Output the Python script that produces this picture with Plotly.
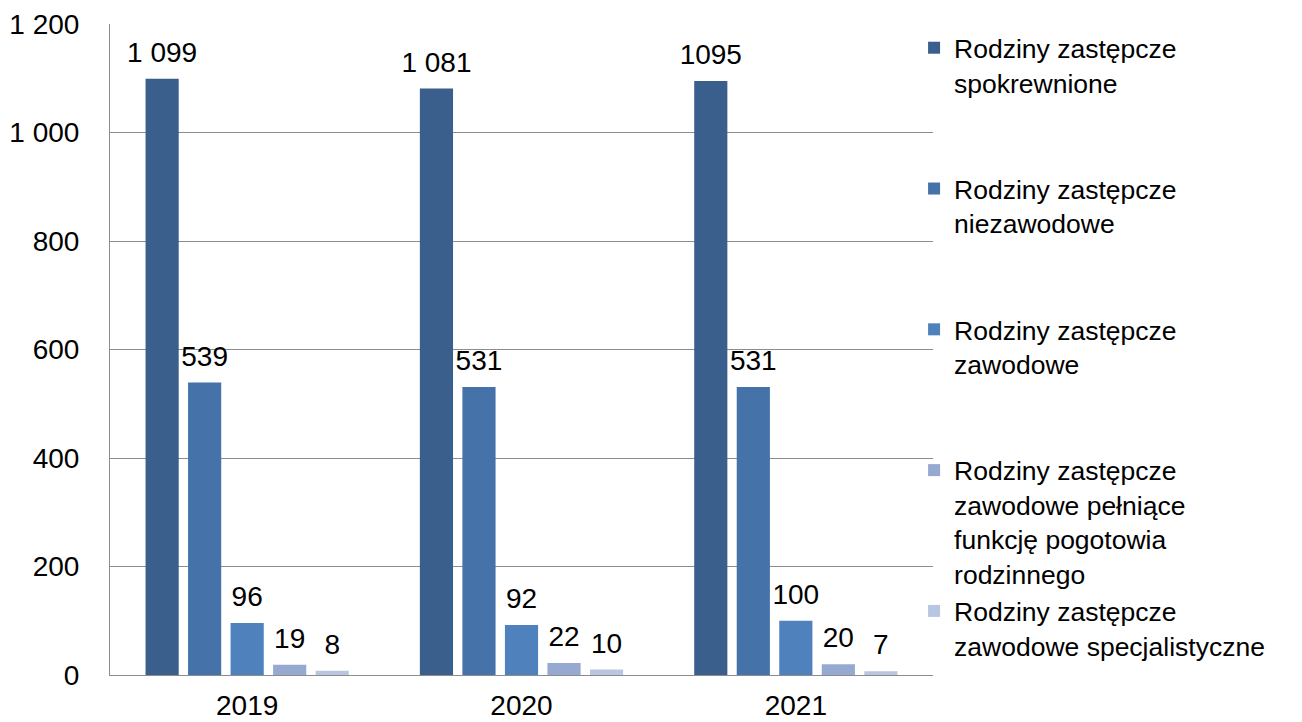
import plotly.graph_objects as go

YEARS = ["2019", "2020", "2021"]

SERIES_NAMES = [
    "Rodziny zastępcze<br>spokrewnione",
    "Rodziny zastępcze<br>niezawodowe",
    "Rodziny zastępcze<br>zawodowe",
    "Rodziny zastępcze<br>zawodowe pełniące<br>funkcję pogotowia<br>rodzinnego",
    "Rodziny zastępcze<br>zawodowe specjalistyczne",
]

spokrewnione = [1099, 1081, 1095]
niezawodowe = [539, 531, 531]
zawodowe = [96, 92, 100]
pogotowie = [19, 22, 20]
specjalistyczne = [8, 10, 7]

# labels as printed in the source (the 2021 one has no space)
labels_spokrewnione = ["1 099", "1 081", "1095"]
labels_niezawodowe = ["539", "531", "531"]
labels_zawodowe = ["96", "92", "100"]
labels_pogotowie = ["19", "22", "20"]
labels_specjalistyczne = ["8", "10", "7"]

SERIES = [spokrewnione, niezawodowe, zawodowe, pogotowie, specjalistyczne]
LABELS = [labels_spokrewnione, labels_niezawodowe, labels_zawodowe,
          labels_pogotowie, labels_specjalistyczne]
COLORS = ["#3A5F8C", "#4572A8", "#4F81BD", "#95A9D1", "#B9C6E1"]

FONT = "Liberation Sans, Arial, sans-serif"
FONT_COLOR = "#000000"
GRID_COLOR = "#8C8C8C"
GAP = 0.225


def pad_lines(name, n=4):
    # legend entries in the source are evenly spaced, so pad to 4 lines
    count = name.count("<br>") + 1
    return name + "<br>\u00a0" * (n - count)


fig = go.Figure()
for i, (name, vals, col) in enumerate(zip(SERIES_NAMES, SERIES, COLORS)):
    fig.add_trace(go.Bar(
        x=YEARS, y=vals,
        name=pad_lines(name) if i < len(SERIES_NAMES) - 1 else name,
        marker=dict(color=col, line=dict(width=0)),
        offsetgroup=str(i),
        hovertemplate="%{x}: %{y}<extra></extra>",
    ))

# value labels: invisible markers so the text sits a bit above the bar top
for i, (vals, labs) in enumerate(zip(SERIES, LABELS)):
    fig.add_trace(go.Scatter(
        x=YEARS, y=vals,
        mode="markers+text",
        text=labs,
        textposition="top center",
        textfont=dict(size=28, color=FONT_COLOR, family=FONT),
        marker=dict(size=14, opacity=0),
        offsetgroup=str(i),
        showlegend=False,
        hoverinfo="skip",
        cliponaxis=False,
    ))

# page body has an 8px margin, so the figure is a bit smaller than the window
fig.update_layout(
    width=1294, height=714,
    barmode="group",
    bargap=GAP,
    bargroupgap=0.22,
    scattermode="group",
    scattergap=GAP,
    separators=", ",
    plot_bgcolor="white",
    paper_bgcolor="white",
    font=dict(family=FONT, color=FONT_COLOR, size=28),
    margin=dict(l=102, r=369, t=16, b=47, autoexpand=False),
    xaxis=dict(
        type="category",
        showline=True, linecolor=GRID_COLOR, linewidth=1,
        showgrid=False,
        ticks="outside", ticklen=5, tickcolor="rgba(0,0,0,0)",
        tickfont=dict(size=28, color=FONT_COLOR),
    ),
    yaxis=dict(
        range=[0, 1200], dtick=200,
        separatethousands=True,
        showline=True, linecolor=GRID_COLOR, linewidth=1,
        showgrid=True, gridcolor=GRID_COLOR, gridwidth=1,
        zeroline=False,
        ticks="outside", ticklen=24, tickcolor="rgba(0,0,0,0)",
        tickfont=dict(size=28, color=FONT_COLOR),
    ),
    legend=dict(
        x=0.977, xanchor="left", y=1.0, yanchor="top",
        valign="top",
        traceorder="normal",
        font=dict(size=26.5, color=FONT_COLOR, family=FONT),
        bgcolor="rgba(0,0,0,0)",
    ),
    showlegend=True,
)

fig.write_html("out.html")
